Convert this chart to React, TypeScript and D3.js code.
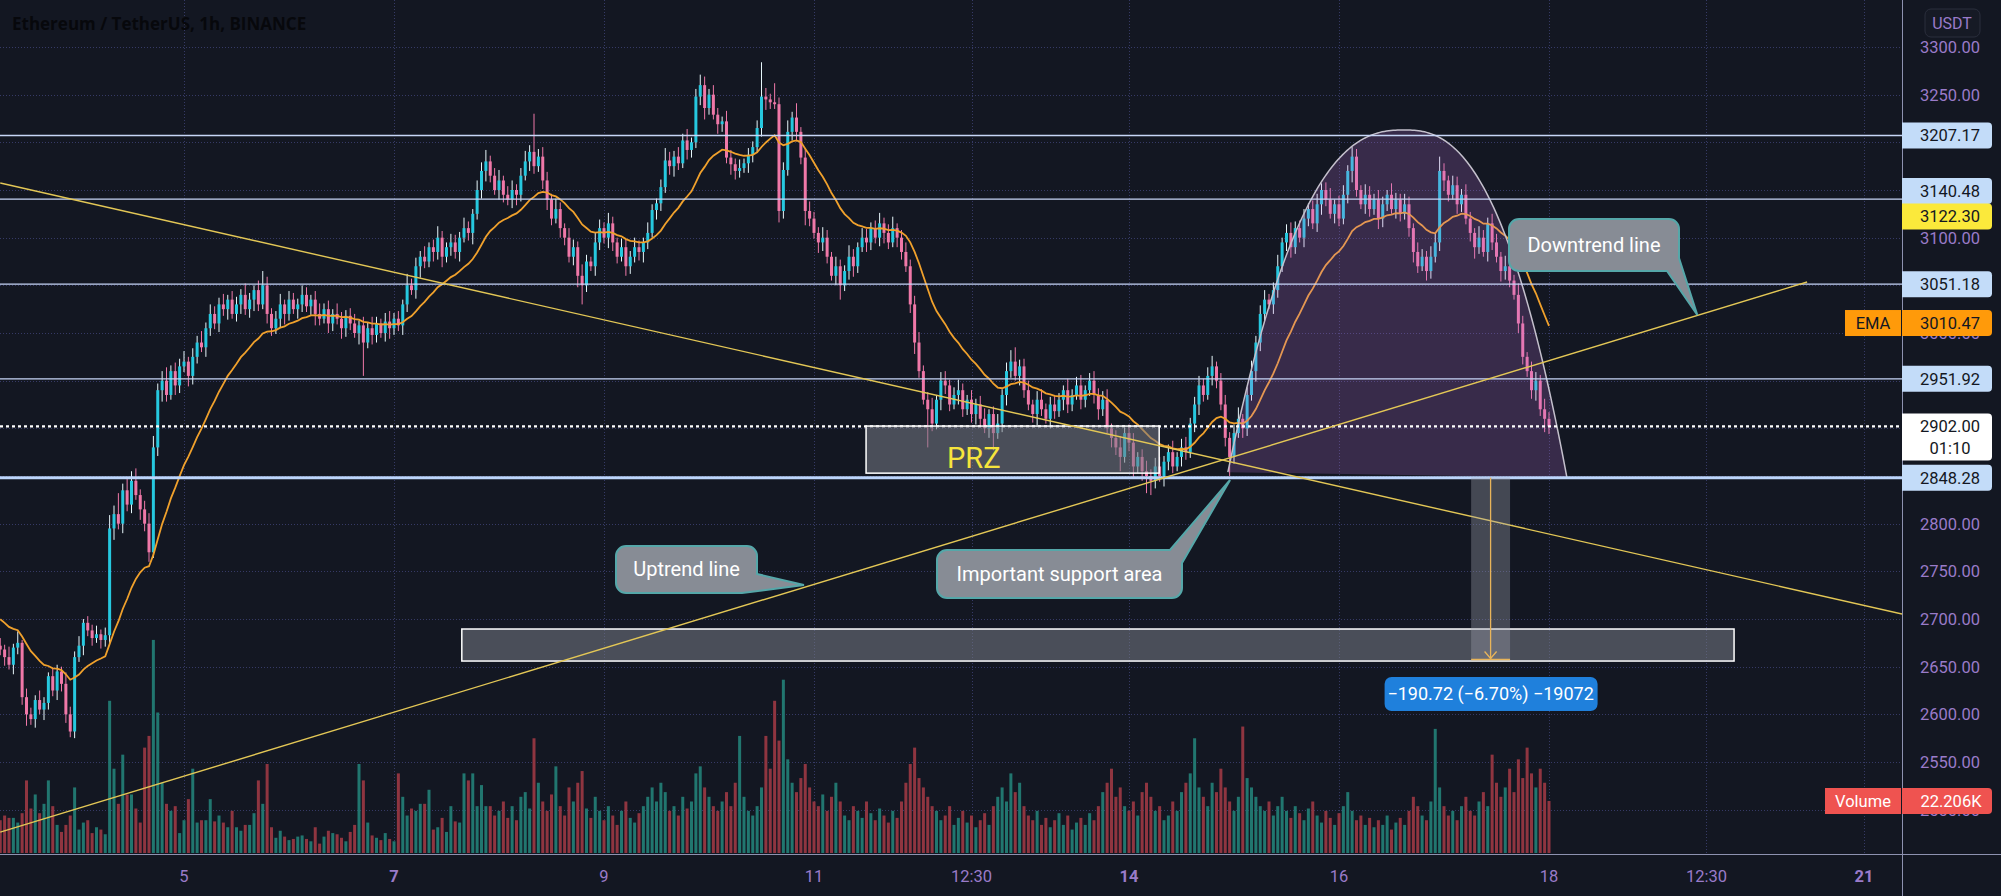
import React from 'react';
import * as d3 from 'd3';

const W = 2001;
const H = 896;
const PANE_R = 1902;
const PANE_B = 854;

// hourly candles, Feb 3 06:00 .. Feb 18 00:00 (index 0..354)
const closes = [
  2668, 2660, 2652, 2670, 2675, 2618, 2600, 2595, 2615, 2605, 2612, 2640, 2625, 2645, 2632, 2600, 2582, 2660, 2672, 2696, 2688, 2680, 2684, 2678, 2683,
  2795, 2810, 2800, 2835, 2820, 2845, 2830, 2815, 2800, 2770, 2880, 2940, 2950, 2935, 2960, 2945, 2965, 2970, 2955, 2975, 2990, 2985, 3005, 3020, 3010,
  3030, 3025, 3035, 3020, 3030, 3040, 3025, 3035, 3045, 3030, 3050, 3020, 3005, 3015, 3030, 3020, 3035, 3025, 3030, 3040, 3028, 3035, 3020, 3015, 3025,
  3010, 3020, 3015, 3005, 3018, 3010, 3000, 3008, 2990, 3005, 2998, 3010, 3000, 3012, 3005, 3015, 3008, 3030, 3050, 3045, 3070, 3080, 3075, 3090, 3085,
  3100, 3080, 3090, 3095, 3085, 3100, 3110, 3105, 3125, 3150, 3170, 3180, 3165, 3150, 3160, 3145, 3140, 3150, 3145, 3165, 3180, 3190, 3175, 3185, 3160,
  3140, 3120, 3130, 3110, 3100, 3080, 3090, 3060, 3050, 3075, 3070, 3095, 3110, 3100, 3115, 3095, 3080, 3090, 3070, 3080, 3090, 3085, 3095, 3105, 3129,
  3136, 3153, 3181, 3175, 3185, 3178, 3202, 3192, 3200, 3248, 3260, 3236, 3250, 3229, 3219, 3222, 3184, 3177, 3170, 3173, 3178, 3187, 3195, 3215, 3248,
  3245, 3242, 3240, 3128, 3171, 3211, 3226, 3211, 3184, 3128, 3120, 3105, 3095, 3100, 3080, 3060, 3070, 3050, 3065, 3080, 3070, 3090, 3100, 3095, 3110,
  3100, 3115, 3105, 3095, 3110, 3100, 3085, 3070, 3030, 2990, 2960, 2930, 2920, 2905, 2930, 2950, 2945, 2925, 2935, 2940, 2920, 2930, 2915, 2925, 2910,
  2900, 2915, 2895, 2905, 2935, 2960, 2970, 2955, 2965, 2940, 2925, 2915, 2930, 2920, 2910, 2925, 2918, 2930, 2940, 2925, 2935, 2945, 2930, 2940, 2950,
  2935, 2920, 2930, 2900, 2890, 2880, 2870, 2895, 2885, 2860, 2870, 2855, 2850, 2845, 2860, 2850, 2865, 2875, 2860, 2870, 2880, 2875, 2905, 2925, 2945,
  2935, 2955, 2965, 2950, 2925, 2890, 2870, 2895, 2910, 2900, 2935, 2960, 2990, 3020, 3035, 3030, 3045, 3070, 3095, 3105, 3090, 3110, 3100, 3120, 3130,
  3115, 3135, 3150, 3140, 3125, 3135, 3120, 3145, 3170, 3185, 3150, 3135, 3145, 3130, 3140, 3120, 3135, 3145, 3130, 3140, 3125, 3135, 3110, 3085, 3070,
  3080, 3065, 3080, 3095, 3170, 3160, 3145, 3155, 3135, 3145, 3120, 3105, 3090, 3100, 3085, 3115, 3095, 3080, 3065, 3070, 3055, 3040, 3010, 2975, 2960,
  2940, 2950, 2920, 2910, 2902,
];
const firstOpen = 2672;

const upperWicks = [
  8, 5, 11, 4, 12, 3, 9, 7, 5, 10, 6, 4, 9, 7, 5, 12, 8, 6, 10, 4, 7, 6, 9, 5, 8,
  14, 9, 22, 7, 12, 10, 13, 6, 9, 11, 12, 7, 10, 14, 6, 9, 8, 11, 5, 9, 7, 12, 6, 10, 8,
  7, 11, 5, 9, 8, 6, 12, 7, 5, 10, 15, 9, 6, 8, 11, 5, 9, 7, 6, 10, 8, 5, 9, 11, 6,
  9, 5, 11, 7, 6, 8, 10, 5, 9, 6, 12, 7, 5, 9, 11, 6, 8, 5, 12, 7, 9, 6, 11, 5, 8,
  12, 7, 5, 9, 8, 6, 11, 7, 5, 10, 9, 12, 6, 8, 11, 5, 9, 10, 6, 8, 11, 7, 40, 8, 10,
  9, 6, 11, 7, 5, 10, 8, 6, 12, 7, 5, 10, 9, 6, 11, 7, 5, 9, 8, 6, 10, 7, 5, 11, 6,
  5, 8, 13, 9, 6, 10, 7, 12, 5, 8, 11, 9, 6, 10, 7, 5, 11, 8, 6, 9, 5, 7, 6, 8, 36,
  9, 6, 20, 7, 8, 12, 6, 15, 5, 9, 10, 7, 6, 11, 8, 5, 10, 7, 6, 12, 8, 5, 10, 9, 6,
  8, 11, 6, 9, 12, 5, 8, 10, 7, 9, 11, 6, 8, 12, 5, 9, 10, 6, 8, 11, 7, 5, 10, 6, 9,
  11, 5, 8, 10, 6, 9, 12, 15, 7, 8, 10, 5, 9, 11, 6, 8, 10, 7, 5, 12, 6, 9, 11, 5, 8,
  10, 7, 9, 11, 5, 8, 12, 6, 9, 10, 5, 8, 11, 7, 9, 10, 6, 8, 12, 5, 9, 11, 6, 8, 10,
  7, 9, 11, 5, 8, 10, 6, 9, 12, 5, 8, 11, 7, 9, 10, 6, 8, 12, 5, 9, 11, 7, 8, 10, 6,
  9, 11, 7, 8, 12, 5, 9, 10, 6, 10, 8, 5, 11, 9, 6, 10, 8, 5, 12, 7, 6, 11, 8, 5, 10,
  8, 6, 11, 9, 15, 8, 5, 10, 9, 6, 11, 7, 5, 12, 8, 6, 10, 9, 5, 11, 7, 6, 12, 8, 5,
  10, 9, 6, 11, 7,
];

const lowerWicks = [
  6, 9, 5, 10, 7, 8, 12, 6, 9, 5, 11, 7, 6, 10, 8, 9, 6, 7, 5, 10, 6, 8, 5, 9, 7,
  8, 12, 6, 10, 7, 9, 5, 11, 8, 10, 6, 9, 12, 7, 5, 10, 8, 6, 11, 9, 7, 5, 10, 8, 6,
  9, 7, 11, 5, 8, 10, 6, 9, 12, 7, 5, 10, 8, 6, 9, 11, 7, 5, 10, 8, 6, 9, 12, 7, 5,
  10, 8, 6, 11, 9, 7, 5, 12, 35, 6, 10, 8, 5, 9, 11, 7, 6, 10, 8, 5, 9, 12, 7, 6, 10,
  8, 11, 6, 9, 7, 10, 5, 8, 12, 6, 9, 11, 7, 5, 10, 8, 6, 9, 11, 7, 5, 10, 8, 6, 9,
  11, 7, 5, 10, 8, 6, 9, 12, 20, 7, 5, 10, 8, 6, 11, 9, 7, 5, 10, 8, 6, 9, 11, 7, 5,
  10, 8, 6, 9, 11, 7, 5, 10, 8, 6, 9, 12, 7, 5, 10, 8, 6, 11, 9, 7, 5, 10, 8, 6, 9,
  11, 7, 5, 12, 8, 6, 9, 10, 7, 15, 8, 6, 11, 9, 7, 5, 10, 15, 6, 9, 11, 7, 5, 10, 8,
  6, 9, 11, 7, 5, 10, 8, 6, 9, 12, 7, 5, 40, 8, 6, 11, 9, 7, 5, 10, 8, 6, 9, 11, 7,
  5, 10, 18, 6, 9, 11, 7, 5, 10, 8, 6, 9, 12, 7, 5, 10, 8, 6, 11, 9, 7, 5, 10, 8, 6,
  9, 11, 7, 5, 10, 8, 15, 6, 9, 12, 7, 10, 18, 15, 8, 6, 11, 9, 7, 5, 10, 8, 6, 9, 11,
  7, 5, 10, 8, 6, 9, 20, 7, 5, 10, 8, 6, 11, 9, 7, 5, 10, 8, 6, 9, 11, 7, 5, 10, 8,
  6, 9, 11, 7, 5, 10, 8, 6, 9, 12, 7, 5, 10, 8, 6, 11, 9, 7, 5, 10, 8, 6, 9, 11, 7,
  5, 10, 8, 6, 9, 11, 7, 5, 10, 8, 6, 9, 12, 7, 5, 10, 8, 6, 11, 9, 7, 5, 10, 8, 6,
  9, 11, 7, 14, 8,
];

// volume in thousands
const volumesK = [
  14, 16, 15, 15, 13, 17, 31, 19, 25, 17, 21, 31, 20, 12, 9, 12, 16, 28, 10, 13, 14, 8.5, 11, 10, 8,
  65, 36, 21, 42, 25, 25, 19, 13, 45, 50, 91, 60, 30, 21, 18, 20, 8.5, 14, 23, 36, 13, 14, 14, 23, 13.5,
  16, 13, 11, 18, 11, 9.5, 12, 12, 17, 31, 21, 38, 11, 6.5, 9.5, 7, 5.5, 6, 7, 7.5, 6, 5, 11, 4, 7,
  9.5, 8.5, 8, 6.5, 5, 9, 12, 38, 31, 13, 7.5, 6.5, 5.5, 8.5, 6, 5, 34, 24, 16, 19, 18, 21, 21, 27, 10,
  11, 15, 9, 20, 13.5, 13, 34, 31, 34, 20, 29, 20, 20, 16,
  18, 22, 15, 20, 14, 24, 26, 19, 49, 30, 22, 18, 25, 37, 20, 16, 28, 22, 30, 35, 19, 15, 24, 18, 14,
  20, 16, 12, 18, 22, 15, 13, 17, 20, 24, 28, 22, 30, 26, 18, 20, 16, 24, 19, 22, 34, 37, 28, 24, 20,
  18, 22, 26, 20, 30, 50, 24, 18, 16, 20, 28, 50, 36, 65, 48, 74, 40, 30, 26, 32, 38, 28, 22, 20, 25,
  18, 24, 30, 22, 16, 14, 20, 18, 15, 22, 17, 14, 19, 16, 13, 18, 15, 22, 30, 38, 45, 32, 28, 24, 20,
  18, 14, 16, 20, 12, 15, 18, 13, 16, 11, 14, 17, 12, 20, 24, 28, 22, 34, 26, 30, 20, 16, 14, 18, 12,
  15, 11, 14, 17, 12, 16, 10, 13, 15, 12, 17, 14, 20, 26, 30, 36, 24, 28, 20, 18, 22, 16, 26, 30, 24,
  18, 20, 14, 16, 22, 18, 26, 30, 34, 49, 28, 24, 20, 30, 26, 36, 28, 22, 18, 24, 54, 32, 28, 24, 20,
  18, 22, 16, 20, 24, 18, 15, 20, 17, 14, 19, 22, 16, 13, 18, 15, 12, 17, 20, 26, 18, 14, 16, 12, 15,
  11, 14, 12, 16, 10, 13, 15, 12, 18, 24, 20, 16, 14, 22, 53, 28, 20, 16, 18, 14, 20, 24, 18, 16, 22,
  26, 20, 42, 30, 24, 28, 36, 26, 40, 32, 45, 34, 28, 36, 30, 22.206,
];

const emaSeed = 2703;
const emaLength = 20;

const priceTicks = [3300, 3250, 3200, 3150, 3100, 3050, 3000, 2950, 2900, 2850, 2800, 2750, 2700, 2650, 2600, 2550, 2500];
const hiddenTickLabels = [3200, 3150, 3050, 2950, 2900, 2850];
const timeTickHours = [42, 90, 138, 186, 222, 258, 306, 354, 390, 426];
const timeTickLabels = ['5', '7', '9', '11', '12:30', '14', '16', '18', '12:30', '21'];
const timeTickBold = [false, true, false, false, false, true, false, false, false, true];

const levelLines = [3207.17, 3140.48, 3051.18, 2951.92];
const levelLabelShift = [0, -8, 0, 0];
const supportLevel = 2848.28;
const lastPrice = 2902.0;
const highMarker = 3122.3;
const emaLabelValue = 3010.47;
const volumeLabel = '22.206K';

// drawings, in (hour index, price)
const downLine = [[0, 3157.3], [434.7, 2705.2]];
const upLine = [[0, 2476.5], [413, 3053.5]];
const arcStart = [280.6, 2854];
const arcApex = [320.9, 3213];
const arcEnd = [358.1, 2848.28];
const przBox = [197.9, 2902.4, 264.9, 2853];
const targetBox = [105.5, 2689.5, 396.3, 2655.9];
const measure = [336.2, 345.1, 2848.28, 2657.56];
const measureText = '\u2212190.72 (\u22126.70%) \u221219072';

const BG = '#131722';
const UP = '#26c8df';
const DOWN = '#ef78a8';
const UP_WICK = '#e6f6fa';
const VOL_UP = '#21766f';
const VOL_DOWN = '#8f3540';
const AXIS_TXT = '#9a7bc9';
const LEVEL = '#c7d6f7';
const LABEL_BLUE = '#c3dcf9';
const FONT = 'Roboto, "Noto Sans", sans-serif';

function cornerCallout(bx: number, by: number, w: number, h: number, r: number, corner: string, ta: number, tb: number, tip: [number, number]) {
  const R = bx + w, B = by + h;
  if (corner === 'tr') {
    return `M${bx + r},${by} L${ta},${by} L${tip[0]},${tip[1]} L${R},${tb} L${R},${B - r} A${r},${r} 0 0 1 ${R - r},${B} L${bx + r},${B} A${r},${r} 0 0 1 ${bx},${B - r} L${bx},${by + r} A${r},${r} 0 0 1 ${bx + r},${by} Z`;
  }
  return `M${bx + r},${by} L${R - r},${by} A${r},${r} 0 0 1 ${R},${by + r} L${R},${ta} L${tip[0]},${tip[1]} L${tb},${B} L${bx + r},${B} A${r},${r} 0 0 1 ${bx},${B - r} L${bx},${by + r} A${r},${r} 0 0 1 ${bx + r},${by} Z`;
}

export default function App() {
  const x = d3.scaleLinear().domain([0, 354]).range([0.25, 1549]);
  const y = d3.scaleLinear().domain([2550, 3300]).range([762, 47]);
  const v = d3.scaleLinear().domain([0, 22.206]).range([853, 801]);

  const candles = closes.map((c, i) => {
    const o = i === 0 ? firstOpen : closes[i - 1];
    return { i, o, c, h: Math.max(o, c) + (upperWicks[i] ?? 6), l: Math.min(o, c) - (lowerWicks[i] ?? 6), vol: volumesK[i] ?? 10 };
  });
  const alpha = 2 / (emaLength + 1);
  let e = emaSeed;
  const ema = closes.map((c) => (e = alpha * c + (1 - alpha) * e));
  const emaPath = d3.line<number>().x((_, i) => x(i)).y((d) => y(d))(ema) || '';

  const sx = x(arcStart[0]), sy = y(arcStart[1]);
  const ax = x(arcApex[0]), ay = y(arcApex[1]);
  const ex = x(arcEnd[0]), ey = y(arcEnd[1]);
  const baseY = (px: number) => sy + ((ey - sy) * (px - sx)) / (ex - sx);
  const P = 2.5;
  const arcPts: [number, number][] = [];
  for (let k = 0; k <= 80; k++) {
    const t = 1 - k / 80;
    const px = ax - t * (ax - sx);
    arcPts.push([px, ay + (baseY(px) - ay) * Math.pow(t, P)]);
  }
  for (let k = 1; k <= 80; k++) {
    const t = k / 80;
    const px = ax + t * (ex - ax);
    arcPts.push([px, ay + (baseY(px) - ay) * Math.pow(t, P)]);
  }
  const arcLine = d3.line()(arcPts) || '';

  const lineXY = (pts: number[][]) => pts.map((p) => [x(p[0]), y(p[1])]);
  const dl = lineXY(downLine);
  const ul = lineXY(upLine);

  const mx0 = x(measure[0]), mx1 = x(measure[1]), mxc = (mx0 + mx1) / 2;
  const myTop = y(measure[2]), myBot = y(measure[3]);

  const labelBox = (cy: number, fill: string, text: string, color: string, key: string) => (
    <g key={key}>
      <path d={`M${PANE_R},${cy - 13} L${1988},${cy - 13} Q${1992},${cy - 13} ${1992},${cy - 9} L${1992},${cy + 9} Q${1992},${cy + 13} ${1988},${cy + 13} L${PANE_R},${cy + 13} Z`} fill={fill} />
      <text x={1950} y={cy + 6} textAnchor="middle" fontSize={16.5} fill={color} fontFamily={FONT}>{text}</text>
    </g>
  );

  const upCall = { x: 616, y: 546, w: 141, h: 47 };
  const supCall = { x: 937, y: 550, w: 245, h: 48 };
  const dnCall = { x: 1509, y: 219, w: 170, h: 52 };

  return (
    <svg width={W} height={H} style={{ position: 'absolute', left: 0, top: 0, background: BG }} xmlns="http://www.w3.org/2000/svg">
      <rect x={0} y={0} width={W} height={H} fill={BG} />
      <defs>
        <clipPath id="pane"><rect x={0} y={0} width={PANE_R} height={PANE_B} /></clipPath>
      </defs>
      <g stroke="#363a66" strokeWidth={1} strokeDasharray="1 2">
        {priceTicks.map((p) => (<line key={'g' + p} x1={0} x2={PANE_R} y1={Math.round(y(p)) + 0.5} y2={Math.round(y(p)) + 0.5} />))}
        {timeTickHours.map((hh) => (<line key={'t' + hh} x1={Math.round(x(hh)) + 0.5} x2={Math.round(x(hh)) + 0.5} y1={0} y2={PANE_B} />))}
      </g>
      <text x={12} y={30} fontSize={17} fontWeight="bold" fill="#07080c" fontFamily={'"Open Sans", sans-serif'}>Ethereum / TetherUS, 1h, BINANCE</text>

      <g clipPath="url(#pane)">
        {candles.map((d) => (
          <rect key={'v' + d.i} x={x(d.i) - 1.5} width={3} y={v(d.vol)} height={PANE_B - 1 - v(d.vol)} fill={d.c >= d.o ? VOL_UP : VOL_DOWN} />
        ))}
        {candles.map((d) => {
          const up = d.c >= d.o;
          const top = y(Math.max(d.o, d.c));
          const bh = Math.max(1, y(Math.min(d.o, d.c)) - top);
          return (
            <g key={'c' + d.i}>
              <line x1={x(d.i)} x2={x(d.i)} y1={y(d.h)} y2={y(d.l)} stroke={up ? UP_WICK : DOWN} strokeWidth={1} />
              <rect x={x(d.i) - 1.5} width={3} y={top} height={bh} fill={up ? UP : DOWN} />
            </g>
          );
        })}
        <path d={emaPath} fill="none" stroke="#f0a12c" strokeWidth={1.8} />

        <path d={arcLine + 'Z'} fill="rgba(190,120,220,0.22)" stroke="none" />
        <path d={arcLine} fill="none" stroke="#c4c0cc" strokeWidth={1.5} />

        {levelLines.map((p) => (<line key={'l' + p} x1={0} x2={PANE_R} y1={y(p)} y2={y(p)} stroke={LEVEL} strokeWidth={1.3} />))}
        <line x1={0} x2={PANE_R} y1={y(supportLevel)} y2={y(supportLevel)} stroke="#bcd5fb" strokeWidth={3} />
        <line x1={0} x2={PANE_R} y1={y(lastPrice)} y2={y(lastPrice)} stroke="#ffffff" strokeWidth={2.2} strokeDasharray="3 3" />

        <rect x={x(przBox[0])} y={y(przBox[1])} width={x(przBox[2]) - x(przBox[0])} height={y(przBox[3]) - y(przBox[1])} fill="rgba(120,123,134,0.55)" stroke="#ffffff" strokeWidth={1.5} />
        <text x={x(przBox[0]) + 81} y={y(przBox[3]) - 5} fontSize={29} fill="#f6e43c" fontFamily={FONT}>PRZ</text>
        <rect x={x(targetBox[0])} y={y(targetBox[1])} width={x(targetBox[2]) - x(targetBox[0])} height={y(targetBox[3]) - y(targetBox[1])} fill="rgba(120,123,134,0.55)" stroke="#ffffff" strokeWidth={1.5} />

        <line x1={dl[0][0]} y1={dl[0][1]} x2={dl[1][0]} y2={dl[1][1]} stroke="#e3c756" strokeWidth={1.4} />
        <line x1={ul[0][0]} y1={ul[0][1]} x2={ul[1][0]} y2={ul[1][1]} stroke="#e3c756" strokeWidth={1.4} />

        <rect x={mx0} y={myTop} width={mx1 - mx0} height={myBot - myTop} fill="rgba(160,163,175,0.35)" />
        <line x1={mx0} x2={mx1} y1={myBot} y2={myBot} stroke="#e8b45a" strokeWidth={1.5} />
        <line x1={mxc} x2={mxc} y1={myTop} y2={myBot} stroke="#e8b45a" strokeWidth={1.3} />
        <path d={`M${mxc - 6},${myBot - 8} L${mxc},${myBot - 1} L${mxc + 6},${myBot - 8}`} fill="none" stroke="#e8b45a" strokeWidth={1.3} />
        <rect x={mxc - 106} y={677} width={213} height={34} rx={7} fill="#1f80dc" />
        <text x={mxc} y={700} textAnchor="middle" fontSize={18} fill="#ffffff" fontFamily={FONT}>{measureText}</text>

        <path d={cornerCallout(upCall.x, upCall.y, upCall.w, upCall.h, 10, 'br', 574, 742, [x(183.7), y(2735.6)])} fill="#878c95" stroke="#55a7a9" strokeWidth={2} />
        <text x={upCall.x + upCall.w / 2} y={upCall.y + 30} textAnchor="middle" fontSize={20} fill="#ffffff" fontFamily={FONT}>Uptrend line</text>
        <path d={cornerCallout(supCall.x, supCall.y, supCall.w, supCall.h, 10, 'tr', 1170, 563, [x(281.1), y(2845.8)])} fill="#878c95" stroke="#55a7a9" strokeWidth={2} />
        <text x={supCall.x + supCall.w / 2} y={supCall.y + 31} textAnchor="middle" fontSize={20} fill="#ffffff" fontFamily={FONT}>Important support area</text>
        <path d={cornerCallout(dnCall.x, dnCall.y, dnCall.w, dnCall.h, 10, 'br', 258, 1667, [x(387.9), y(3018.9)])} fill="#878c95" stroke="#55a7a9" strokeWidth={2} />
        <text x={dnCall.x + dnCall.w / 2} y={dnCall.y + 33} textAnchor="middle" fontSize={20} fill="#ffffff" fontFamily={FONT}>Downtrend line</text>
      </g>

      <line x1={PANE_R + 0.5} x2={PANE_R + 0.5} y1={0} y2={H} stroke="#8e92b0" strokeWidth={1} />
      <line x1={0} x2={W} y1={PANE_B + 0.5} y2={PANE_B + 0.5} stroke="#8e92b0" strokeWidth={1} />

      {priceTicks.filter((p) => !hiddenTickLabels.includes(p)).map((p) => (
        <text key={'pt' + p} x={1950} y={y(p) + 6} textAnchor="middle" fontSize={16.5} fill={AXIS_TXT} fontFamily={FONT}>{p.toFixed(2)}</text>
      ))}
      {timeTickHours.map((hh, k) => (
        <text key={'tt' + hh} x={x(hh)} y={882} textAnchor="middle" fontSize={16.5} fontWeight={timeTickBold[k] ? 'bold' : 'normal'} fill={AXIS_TXT} fontFamily={FONT}>{timeTickLabels[k]}</text>
      ))}

      <rect x={1925} y={9} width={55} height={28} rx={6} fill="#161a25" stroke="#2a2e3c" />
      <text x={1952} y={29} textAnchor="middle" fontSize={16} fill={AXIS_TXT} fontFamily={FONT}>USDT</text>

      {levelLines.map((p, k) => labelBox(y(p) + levelLabelShift[k], LABEL_BLUE, p.toFixed(2), '#131722', 'lb' + p))}
      {labelBox(y(highMarker), '#fbe93b', highMarker.toFixed(2), '#131722', 'hm')}
      {labelBox(y(emaLabelValue), '#ff9a0a', emaLabelValue.toFixed(2), '#131722', 'ema')}
      <rect x={1845} y={y(emaLabelValue) - 13} width={56} height={26} fill="#ff9a0a" />
      <text x={1873} y={y(emaLabelValue) + 6} textAnchor="middle" fontSize={16.5} fill="#131722" fontFamily={FONT}>EMA</text>
      <path d={`M${PANE_R},${y(lastPrice) - 13} L1988,${y(lastPrice) - 13} Q1992,${y(lastPrice) - 13} 1992,${y(lastPrice) - 9} L1992,${y(lastPrice) + 30} Q1992,${y(lastPrice) + 34} 1988,${y(lastPrice) + 34} L${PANE_R},${y(lastPrice) + 34} Z`} fill="#ffffff" />
      <text x={1950} y={y(lastPrice) + 6} textAnchor="middle" fontSize={16.5} fill="#131722" fontFamily={FONT}>{lastPrice.toFixed(2)}</text>
      <text x={1950} y={y(lastPrice) + 28} textAnchor="middle" fontSize={16.5} fill="#131722" fontFamily={FONT}>01:10</text>
      {labelBox(y(supportLevel), LABEL_BLUE, supportLevel.toFixed(2), '#131722', 'sup')}
      <path d={`M${PANE_R},${v(22.206) - 13} L1988,${v(22.206) - 13} Q1992,${v(22.206) - 13} 1992,${v(22.206) - 9} L1992,${v(22.206) + 9} Q1992,${v(22.206) + 13} 1988,${v(22.206) + 13} L${PANE_R},${v(22.206) + 13} Z`} fill="#ef5350" />
      <text x={1951} y={v(22.206) + 6} textAnchor="middle" fontSize={16.5} fill="#ffffff" fontFamily={FONT}>{volumeLabel}</text>
      <rect x={1825} y={v(22.206) - 13} width={76} height={26} fill="#ef5350" />
      <text x={1863} y={v(22.206) + 6} textAnchor="middle" fontSize={16.5} fill="#ffffff" fontFamily={FONT}>Volume</text>
    </svg>
  );
}
